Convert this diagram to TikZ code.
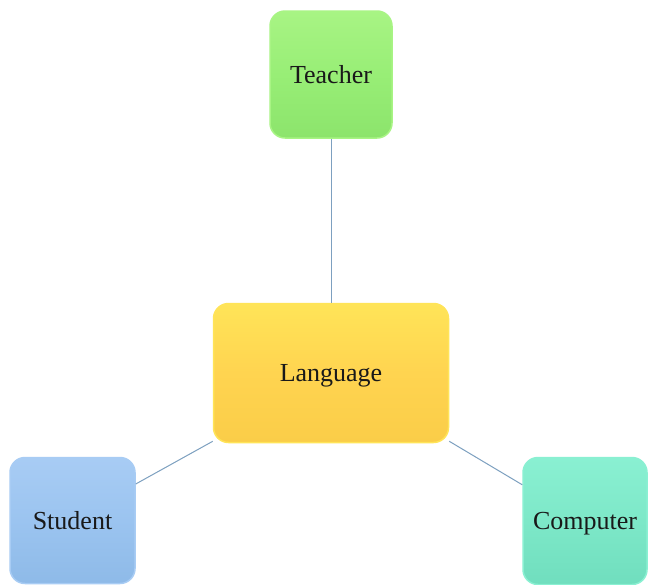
\documentclass[tikz,border=0pt]{standalone}
\usepackage{fontspec}
\setmainfont{Liberation Serif}
\begin{document}
\begin{tikzpicture}[x=1pt,y=-1pt,
  box/.style={rounded corners=15pt, inner sep=0pt, font=\fontsize{26}{30}\selectfont, text=black!90, line width=1.5pt, text depth=0pt},
  link/.style={draw=linkc, line width=1pt}]
\definecolor{linkc}{RGB}{125,160,192}
\definecolor{tgreen}{RGB}{152,238,118}
\definecolor{tgreenE}{RGB}{168,244,132}
\definecolor{tgreenD}{RGB}{140,228,108}
\definecolor{lyellow}{RGB}{255,212,80}
\definecolor{lyellowE}{RGB}{255,228,88}
\definecolor{lyellowD}{RGB}{250,205,72}
\definecolor{sblue}{RGB}{155,196,240}
\definecolor{sblueE}{RGB}{168,204,244}
\definecolor{sblueD}{RGB}{142,186,232}
\definecolor{caqua}{RGB}{125,232,200}
\definecolor{caquaE}{RGB}{138,240,210}
\definecolor{caquaD}{RGB}{112,222,190}
\useasboundingbox (0,0) rectangle (648,584);
\fill[white] (0,0) rectangle (648,584);
\node[box, minimum width=122pt, minimum height=127pt, draw=tgreenE, top color=tgreenE, bottom color=tgreenD, middle color=tgreen] (teacher) at (331,74.5) {Teacher};
\node[box, minimum width=235pt, minimum height=139pt, draw=lyellowE, top color=lyellowE, bottom color=lyellowD, middle color=lyellow] (language) at (331,373) {Language};
\node[box, minimum width=125pt, minimum height=126pt, draw=sblueE, top color=sblueE, bottom color=sblueD, middle color=sblue] (student) at (72.5,520.5) {Student};
\node[box, minimum width=124pt, minimum height=127pt, draw=caquaE, top color=caquaE, bottom color=caquaD, middle color=caqua] (computer) at (585,521) {Computer};
\draw[link] (teacher.south) -- (language.north);
\draw[link] (language.210) -- (student.30);
\draw[link] (language.330) -- (computer.150);
\end{tikzpicture}
\end{document}
